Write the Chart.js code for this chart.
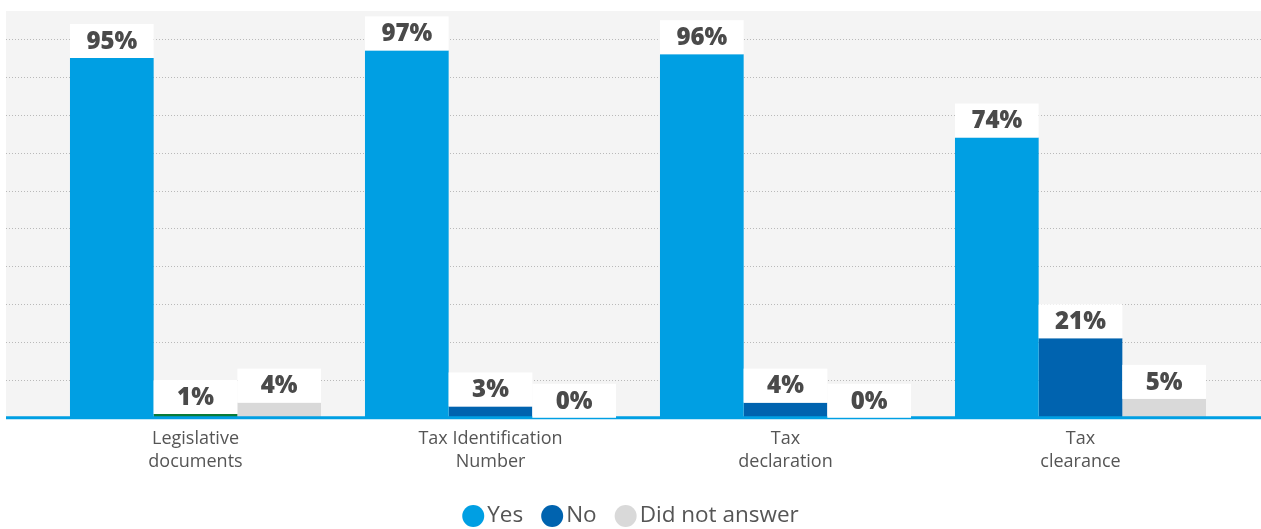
<!DOCTYPE html>
<html>
<head>
<meta charset="utf-8">
<script src="https://cdn.jsdelivr.net/npm/chart.js@4/dist/chart.umd.min.js"></script>
<style>
  html, body { margin: 0; padding: 0; background: #fff; }
  #wrap { position: relative; width: 1261px; height: 529px; }
</style>
</head>
<body>
<div id="wrap"><canvas id="taxChart"></canvas></div>
<script>
// categories and answers (%)
const categories = [['Legislative', 'documents'], ['Tax Identification', 'Number'], ['Tax', 'declaration'], ['Tax', 'clearance']];
const yesValues = [95, 97, 96, 74];
const noValues = [1, 3, 4, 21];
const noAnswerValues = [4, 0, 0, 5];
const gridTicks = [10, 20, 30, 40, 50, 60, 70, 80, 90, 100];

const BLUE = '#009fe3';
const DARK_BLUE = '#0063af';
const GREEN = '#0a7c38';
const GREY = '#d9d9d9';

Chart.defaults.font.family = '"Open Sans", sans-serif';

// grey plot background + dotted grid, drawn wider than the chart area
const backdrop = {
    id: 'backdrop',
    beforeDatasetsDraw(chart) {
        const { ctx, chartArea, scales } = chart;
        const left = 6, right = chart.width;
        ctx.save();
        ctx.fillStyle = '#f4f4f4';
        ctx.fillRect(left, chartArea.top, right - left, chartArea.bottom - chartArea.top);
        ctx.strokeStyle = '#b9b9b9';
        ctx.lineWidth = 1;
        ctx.setLineDash([1, 2]);
        gridTicks.forEach(v => {
            const y = Math.round(scales.y.getPixelForValue(v)) + 0.5;
            ctx.beginPath();
            ctx.moveTo(left, y);
            ctx.lineTo(right, y);
            ctx.stroke();
        });
        ctx.restore();
    },
    afterDatasetsDraw(chart) {
        const { ctx, chartArea } = chart;
        ctx.save();
        // baseline
        ctx.strokeStyle = BLUE;
        ctx.lineWidth = 3;
        ctx.beginPath();
        ctx.moveTo(6, chartArea.bottom);
        ctx.lineTo(chart.width, chartArea.bottom);
        ctx.stroke();
        // white value boxes on top of each bar
        ctx.font = '800 24px "Open Sans", sans-serif';
        ctx.textAlign = 'center';
        ctx.textBaseline = 'middle';
        chart.data.datasets.forEach((ds, i) => {
            chart.getDatasetMeta(i).data.forEach((bar, j) => {
                const w = bar.width, h = 34;
                const top = bar.y - h;
                ctx.fillStyle = '#fff';
                ctx.fillRect(bar.x - w / 2, top, w, h);
                ctx.fillStyle = '#4a4a4a';
                ctx.fillText(ds.data[j] + '%', bar.x, top + h / 2 + 1);
            });
        });
        ctx.restore();
    }
};

// legend: round markers sitting tight against their text
const roundLegend = {
    id: 'roundLegend',
    afterDraw(chart) {
        const { ctx } = chart;
        const r = 11, gapText = 3, gapItem = 18, y = 516;
        ctx.save();
        ctx.font = '22.5px "Open Sans", sans-serif';
        ctx.textBaseline = 'middle';
        const items = chart.data.datasets.map(ds => ({ text: ds.label, color: ds.legendColor, w: ctx.measureText(ds.label).width }));
        const total = items.reduce((s, it) => s + 2 * r + gapText + it.w, 0) + gapItem * (items.length - 1);
        let x = chart.width / 2 - total / 2;
        items.forEach(it => {
            ctx.fillStyle = it.color;
            ctx.beginPath();
            ctx.arc(x + r, y, r, 0, Math.PI * 2);
            ctx.fill();
            x += 2 * r + gapText;
            ctx.fillStyle = '#555';
            ctx.fillText(it.text, x, y);
            x += it.w + gapItem;
        });
        ctx.restore();
    }
};

const chart = new Chart(document.getElementById('taxChart'), {
    type: 'bar',
    data: {
        labels: categories,
        datasets: [
            { label: 'Yes', data: yesValues, backgroundColor: BLUE, legendColor: BLUE },
            { label: 'No', data: noValues, backgroundColor: [GREEN, DARK_BLUE, DARK_BLUE, DARK_BLUE], legendColor: DARK_BLUE },
            { label: 'Did not answer', data: noAnswerValues, backgroundColor: GREY, legendColor: GREY }
        ]
    },
    options: {
        responsive: true,
        maintainAspectRatio: false,
        animation: false,
        layout: { padding: { top: 11, left: 48, right: 33, bottom: 45.5 } },
        datasets: {
            bar: { categoryPercentage: 0.851, barPercentage: 1, borderWidth: 0 }
        },
        scales: {
            x: {
                grid: { display: false, drawTicks: false },
                border: { display: false },
                ticks: { color: '#555', font: { size: 18, lineHeight: 1.27 }, padding: 10 }
            },
            y: {
                min: 0,
                max: 107.4,
                display: false
            }
        },
        plugins: {
            tooltip: { enabled: false },
            legend: { display: false }
        }
    },
    plugins: [backdrop, roundLegend]
});
</script>
</body>
</html>
